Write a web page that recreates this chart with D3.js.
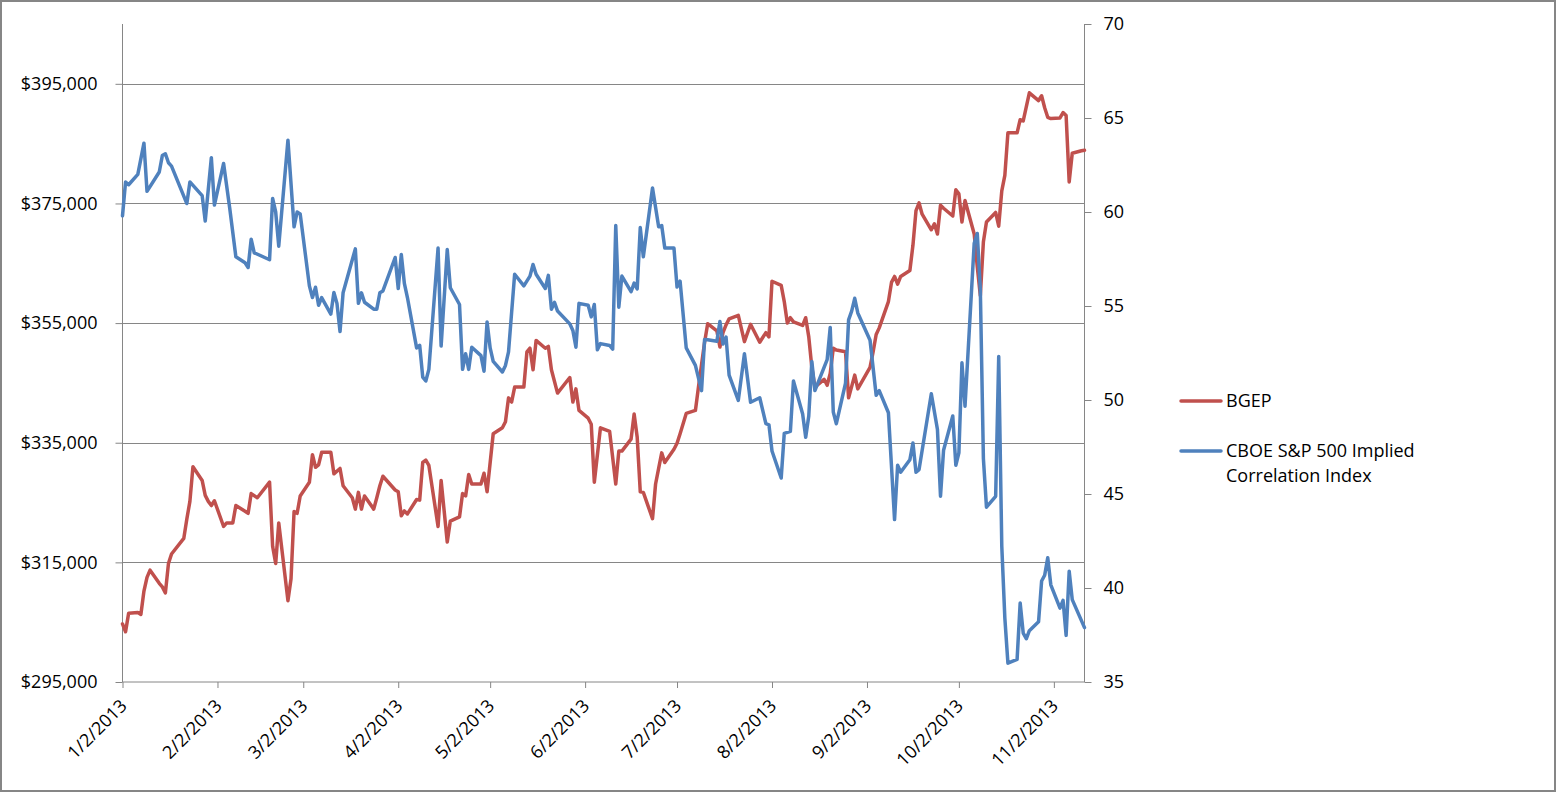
<!DOCTYPE html>
<html>
<head>
<meta charset="utf-8">
<script src="https://cdn.jsdelivr.net/npm/d3@7"></script>
<style>
  html, body { margin: 0; padding: 0; background: #fff; }
  svg { display: block; }
  text { font-family: "Open Sans", "Noto Sans", sans-serif; fill: #000; }
</style>
</head>
<body>
<svg id="chart" width="1556" height="792"></svg>
<script>
// ---------------- data ----------------
const bgepDates = [
"2013-01-02","2013-01-03","2013-01-04","2013-01-07","2013-01-08","2013-01-09","2013-01-10","2013-01-11",
"2013-01-14","2013-01-15","2013-01-16","2013-01-17","2013-01-18","2013-01-22","2013-01-23","2013-01-24",
"2013-01-25","2013-01-28","2013-01-29","2013-01-30","2013-01-31","2013-02-01","2013-02-04","2013-02-05",
"2013-02-07","2013-02-08","2013-02-11","2013-02-12","2013-02-13","2013-02-15","2013-02-19","2013-02-20",
"2013-02-21","2013-02-22","2013-02-25","2013-02-26","2013-02-27","2013-02-28","2013-03-01","2013-03-04",
"2013-03-05","2013-03-06","2013-03-07","2013-03-08","2013-03-11","2013-03-12","2013-03-14","2013-03-15",
"2013-03-18","2013-03-19","2013-03-20","2013-03-21","2013-03-22","2013-03-25","2013-03-26","2013-03-27",
"2013-03-28","2013-04-01","2013-04-02","2013-04-03","2013-04-04","2013-04-05","2013-04-08","2013-04-09",
"2013-04-10","2013-04-11","2013-04-12","2013-04-15","2013-04-16","2013-04-18","2013-04-19","2013-04-22",
"2013-04-23","2013-04-24","2013-04-25","2013-04-26","2013-04-29","2013-04-30","2013-05-01","2013-05-03",
"2013-05-06","2013-05-07","2013-05-08","2013-05-09","2013-05-10","2013-05-13","2013-05-14","2013-05-15",
"2013-05-16","2013-05-17","2013-05-20","2013-05-21","2013-05-22","2013-05-24","2013-05-28","2013-05-29",
"2013-05-30","2013-05-31","2013-06-03","2013-06-04","2013-06-05","2013-06-07","2013-06-10","2013-06-12",
"2013-06-13","2013-06-14","2013-06-17","2013-06-18","2013-06-19","2013-06-20","2013-06-21","2013-06-24",
"2013-06-25","2013-06-26","2013-06-27","2013-06-28","2013-07-01","2013-07-02","2013-07-03","2013-07-05",
"2013-07-08","2013-07-09","2013-07-11","2013-07-12","2013-07-15","2013-07-16","2013-07-17","2013-07-18",
"2013-07-19","2013-07-22","2013-07-24","2013-07-26","2013-07-29","2013-07-31","2013-08-01","2013-08-02",
"2013-08-05","2013-08-06","2013-08-07","2013-08-08","2013-08-09","2013-08-12","2013-08-13","2013-08-14",
"2013-08-15","2013-08-16","2013-08-19","2013-08-20","2013-08-21","2013-08-22","2013-08-23","2013-08-26",
"2013-08-27","2013-08-29","2013-08-30","2013-09-03","2013-09-04","2013-09-05","2013-09-06","2013-09-09",
"2013-09-10","2013-09-11","2013-09-12","2013-09-13","2013-09-16","2013-09-17","2013-09-18","2013-09-19",
"2013-09-20","2013-09-23","2013-09-24","2013-09-25","2013-09-26","2013-09-27","2013-09-30","2013-10-01",
"2013-10-02","2013-10-03","2013-10-04","2013-10-07","2013-10-08","2013-10-09","2013-10-10","2013-10-11",
"2013-10-14","2013-10-15","2013-10-16","2013-10-17","2013-10-18","2013-10-21","2013-10-22","2013-10-23",
"2013-10-25","2013-10-28","2013-10-29","2013-10-30","2013-10-31","2013-11-01","2013-11-04","2013-11-05",
"2013-11-06","2013-11-07","2013-11-08","2013-11-11","2013-11-12"
];
const bgepValues = [
304700,303400,306500,306600,306300,310200,312500,313700,
311500,310900,309900,314800,316400,319000,322250,325200,
331000,328700,326200,325200,324500,325300,321000,321600,
321600,324500,323550,323200,326500,325800,328400,317700,
314800,321600,308600,312200,323500,323200,326100,328400,
333000,330900,331300,333400,333400,329800,330700,327800,
325800,323900,326700,323900,326100,323900,325800,327800,
329400,327100,326800,322800,323600,323100,325500,325400,
331700,332100,331200,321000,328700,318400,321900,322600,
326500,326100,329700,328100,328100,329900,326800,336500,
337500,338500,342500,341800,344300,344300,350200,350800,
347200,352100,350800,351100,347200,343300,345900,341800,
344000,340400,339100,338100,328400,337500,336900,328100,
333600,333600,335600,339800,335900,326800,326700,322300,
328100,330700,333300,331700,333900,334900,336500,339900,
340400,344300,351800,354900,353700,351000,353400,354700,
355700,356300,351900,354800,351800,353400,352700,362000,
361300,358600,355000,355900,355200,354600,355900,352700,
347600,344300,345600,344600,346600,350800,350500,350200,
342500,346300,344000,347600,350200,353100,354200,358600,
361800,362800,361500,362800,363800,368000,373800,375100,
373200,370600,371600,369900,374700,374200,372900,377300,
376600,371900,375500,369900,364400,359600,368600,371900,
373500,371200,377100,379700,386800,386800,389000,388800,
393500,392200,393000,391000,389400,389200,389300,390200,
389700,378600,383400,383800,383900
];

const corrDates = [
"2013-01-02","2013-01-03","2013-01-04","2013-01-07","2013-01-09","2013-01-10","2013-01-14","2013-01-15",
"2013-01-16","2013-01-17","2013-01-18","2013-01-23","2013-01-24","2013-01-28","2013-01-29","2013-01-31",
"2013-02-01","2013-02-04","2013-02-06","2013-02-08","2013-02-11","2013-02-12","2013-02-13","2013-02-14",
"2013-02-19","2013-02-20","2013-02-21","2013-02-22","2013-02-25","2013-02-27","2013-02-28","2013-03-01",
"2013-03-04","2013-03-05","2013-03-06","2013-03-07","2013-03-08","2013-03-11","2013-03-12","2013-03-13",
"2013-03-14","2013-03-15","2013-03-19","2013-03-20","2013-03-21","2013-03-22","2013-03-25","2013-03-26",
"2013-03-27","2013-03-28","2013-04-01","2013-04-02","2013-04-03","2013-04-04","2013-04-05","2013-04-08",
"2013-04-09","2013-04-10","2013-04-11","2013-04-12","2013-04-15","2013-04-16","2013-04-18","2013-04-19",
"2013-04-22","2013-04-23","2013-04-24","2013-04-25","2013-04-26","2013-04-29","2013-04-30","2013-05-01",
"2013-05-02","2013-05-03","2013-05-06","2013-05-07","2013-05-08","2013-05-09","2013-05-10","2013-05-13",
"2013-05-15","2013-05-16","2013-05-17","2013-05-20","2013-05-21","2013-05-22","2013-05-23","2013-05-24",
"2013-05-28","2013-05-29","2013-05-30","2013-05-31","2013-06-03","2013-06-04","2013-06-05","2013-06-06",
"2013-06-07","2013-06-10","2013-06-11","2013-06-12","2013-06-13","2013-06-14","2013-06-17","2013-06-18",
"2013-06-19","2013-06-20","2013-06-21","2013-06-24","2013-06-26","2013-06-27","2013-06-28","2013-07-01",
"2013-07-02","2013-07-03","2013-07-05","2013-07-08","2013-07-10","2013-07-11","2013-07-12","2013-07-15",
"2013-07-16","2013-07-17","2013-07-18","2013-07-19","2013-07-22","2013-07-24","2013-07-26","2013-07-29",
"2013-07-31","2013-08-01","2013-08-02","2013-08-05","2013-08-06","2013-08-08","2013-08-09","2013-08-12",
"2013-08-13","2013-08-14","2013-08-15","2013-08-16","2013-08-20","2013-08-21","2013-08-22","2013-08-23",
"2013-08-26","2013-08-27","2013-08-28","2013-08-29","2013-08-30","2013-09-03","2013-09-05","2013-09-06",
"2013-09-09","2013-09-11","2013-09-12","2013-09-13","2013-09-16","2013-09-17","2013-09-18","2013-09-19",
"2013-09-23","2013-09-25","2013-09-26","2013-09-27","2013-09-30","2013-10-01","2013-10-02","2013-10-03",
"2013-10-04","2013-10-07","2013-10-08","2013-10-09","2013-10-10","2013-10-11","2013-10-14","2013-10-15",
"2013-10-16","2013-10-17","2013-10-18","2013-10-21","2013-10-22","2013-10-23","2013-10-24","2013-10-25",
"2013-10-28","2013-10-29","2013-10-30","2013-10-31","2013-11-01","2013-11-04","2013-11-05","2013-11-06",
"2013-11-07","2013-11-08","2013-11-12"
];
const corrValues = [
59.8,61.6,61.45,62.0,63.66,61.1,62.13,63.0,
63.1,62.62,62.44,60.45,61.6,60.87,59.52,62.89,
60.37,62.58,60.2,57.62,57.3,57.05,58.55,57.83,
57.46,60.72,60.0,58.18,63.82,59.21,60.0,59.9,
56.07,55.45,56.0,55.04,55.45,54.57,55.72,55.14,
53.64,55.7,58.04,55.14,55.7,55.2,54.83,54.83,
55.7,55.8,57.58,55.93,57.74,56.2,55.45,52.77,
52.91,51.22,51.01,51.63,58.08,52.87,58.0,55.97,
55.08,51.63,52.46,51.63,52.81,52.36,51.53,54.15,
52.77,52.05,51.49,51.84,52.56,54.63,56.69,56.07,
56.59,57.21,56.69,55.93,56.63,54.83,55.19,54.73,
54.05,53.7,52.81,55.14,55.04,54.42,55.08,52.67,
53.0,52.9,52.7,59.28,54.94,56.59,55.76,56.22,
55.91,59.17,57.62,61.28,59.21,59.28,58.08,58.08,
56.01,56.32,52.77,51.84,50.5,53.22,53.2,53.12,
54.17,52.98,53.35,51.32,49.98,52.46,49.88,50.12,
48.74,48.68,47.29,45.85,48.22,48.33,51.01,49.26,
48.02,49.15,52.05,50.5,52.15,53.86,49.36,48.74,
50.9,54.26,54.73,55.41,54.63,53.18,50.25,50.5,
49.32,43.64,46.53,46.16,46.82,47.71,46.16,46.3,
50.33,48.43,44.88,47.33,49.15,46.53,47.19,51.98,
49.67,58.34,58.86,55.87,46.88,44.3,44.88,52.31,
42.23,38.4,36.0,36.2,39.2,37.6,37.3,37.73,
38.2,40.37,40.68,41.61,40.17,38.93,39.34,37.48,
40.89,39.38,37.89
];

const leftTicks = [295000, 315000, 335000, 355000, 375000, 395000];
const rightTicks = [35, 40, 45, 50, 55, 60, 65, 70];
const xTickDates = ["2013-01-02","2013-02-02","2013-03-02","2013-04-02","2013-05-02","2013-06-02",
                    "2013-07-02","2013-08-02","2013-09-02","2013-10-02","2013-11-02"];
const seriesNames = ["BGEP", "CBOE S&P 500 Implied Correlation Index"];
const seriesColors = ["#C0504D", "#4F81BD"];

// ---------------- layout ----------------
const W = 1556, H = 792;
const plot = { left: 122.5, right: 1084.5, top: 24, bottom: 682 };
const parse = d3.timeParse("%Y-%m-%d");
const fmtDate = d3.timeFormat("%-m/%-d/%Y");

const svg = d3.select("#chart");

// outer border
svg.append("rect")
  .attr("x", 1).attr("y", 1).attr("width", W - 2).attr("height", H - 2)
  .attr("fill", "#fff").attr("stroke", "#868686").attr("stroke-width", 2);

const x = d3.scaleTime()
  .domain([parse("2013-01-02"), parse("2013-11-12")])
  .range([plot.left, plot.right]);
const yL = d3.scaleLinear().domain([295000, 405000]).range([plot.bottom, plot.top]);
const yR = d3.scaleLinear().domain([35, 70]).range([plot.bottom, plot.top]);

const axisColor = "#868686";

// gridlines
svg.append("g")
  .selectAll("line")
  .data(leftTicks.filter(v => v !== 295000))
  .join("line")
  .attr("x1", plot.left).attr("x2", plot.right)
  .attr("y1", d => Math.round(yL(d)) + 0.5).attr("y2", d => Math.round(yL(d)) + 0.5)
  .attr("stroke", axisColor).attr("stroke-width", 1);

// left axis
const gL = svg.append("g").attr("transform", `translate(${plot.left},0)`)
  .call(d3.axisLeft(yL).tickValues(leftTicks).tickFormat(d3.format("$,.0f")).tickSize(7).tickPadding(18));
// right axis
const gR = svg.append("g").attr("transform", `translate(${plot.right},0)`)
  .call(d3.axisRight(yR).tickValues(rightTicks).tickFormat(d3.format("d")).tickSize(7).tickPadding(12));
// bottom axis
const gB = svg.append("g").attr("transform", `translate(0,${plot.bottom})`)
  .call(d3.axisBottom(x).tickValues(xTickDates.map(parse)).tickFormat(fmtDate).tickSize(6));

[gL, gR, gB].forEach(g => {
  g.select(".domain").attr("stroke", axisColor).attr("stroke-width", 1);
  g.selectAll(".tick line").attr("stroke", axisColor).attr("stroke-width", 1);
  g.selectAll("text").attr("font-size", 18).attr("fill", "#000")
    .attr("font-family", '"Open Sans", "Noto Sans", sans-serif');
});
gL.select(".domain").attr("d", `M-0,${plot.bottom}V${plot.top}`);
gR.select(".domain").attr("d", `M0,${plot.bottom}V${plot.top}`);
gB.select(".domain").attr("d", `M${plot.left},0H${plot.right}`);

gB.selectAll(".tick text")
  .attr("text-anchor", "end")
  .attr("dy", null)
  .attr("y", null)
  .attr("transform", "translate(5,25) rotate(-45)");

// lines
const lineL = d3.line().x(d => x(d[0])).y(d => yL(d[1]));
const lineR = d3.line().x(d => x(d[0])).y(d => yR(d[1]));

const bgepData = bgepDates.map((d, i) => [parse(d), bgepValues[i]]);
const corrData = corrDates.map((d, i) => [parse(d), corrValues[i]]);

svg.append("path").datum(bgepData)
  .attr("d", lineL).attr("fill", "none")
  .attr("stroke", seriesColors[0]).attr("stroke-width", 3.5)
  .attr("stroke-linejoin", "round").attr("stroke-linecap", "round");

svg.append("path").datum(corrData)
  .attr("d", lineR).attr("fill", "none")
  .attr("stroke", seriesColors[1]).attr("stroke-width", 3.5)
  .attr("stroke-linejoin", "round").attr("stroke-linecap", "round");

// legend
const legend = svg.append("g");
const legendItems = [
  { name: seriesNames[0], color: seriesColors[0], y: 401, lines: ["BGEP"] },
  { name: seriesNames[1], color: seriesColors[1], y: 451, lines: ["CBOE S&P 500 Implied", "Correlation Index"] }
];
legendItems.forEach(it => {
  legend.append("line")
    .attr("x1", 1181).attr("x2", 1221).attr("y1", it.y).attr("y2", it.y)
    .attr("stroke", it.color).attr("stroke-width", 3.5).attr("stroke-linecap", "round");
  const t = legend.append("text")
    .attr("x", 1226).attr("y", it.y)
    .attr("font-size", 18);
  it.lines.forEach((ln, i) => {
    t.append("tspan").attr("x", 1226).attr("dy", i === 0 ? "0.35em" : 25).text(ln);
  });
});
</script>
</body>
</html>
